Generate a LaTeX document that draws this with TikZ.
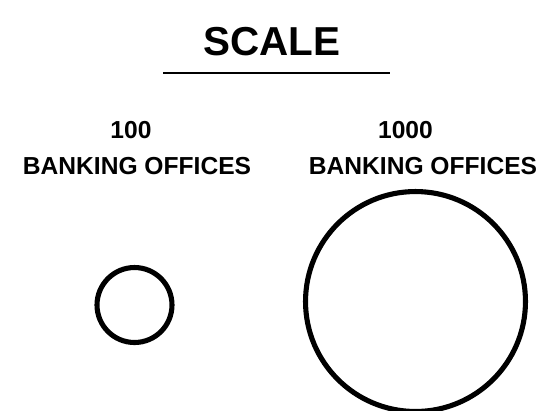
\documentclass[tikz,border=0pt]{standalone}
\usepackage{fontspec}
\setmainfont{Liberation Sans}
\begin{document}
\begin{tikzpicture}[x=0.02cm,y=-0.02cm,
    label/.style = {inner sep=0pt,
        font=\bfseries\fontsize{14}{18}\selectfont},
    ring/.style = {circle, draw, line width=2.9pt, inner sep=0pt}]

\useasboundingbox (0,0) rectangle (547,410);

% Title
\node[inner sep=0pt,font=\bfseries\fontsize{23}{28}\selectfont] (title) at (272,42) {SCALE};
\coordinate (ulA) at (163,73);
\coordinate (ulB) at (390,73);
\draw[line width=1.3pt] (ulA) -- (ulB);

% 100 offices
\node[label] (n100) at (131,130.5) {100};
\node[label] (b100) at (137,166.5) {BANKING OFFICES};
\node[ring,minimum size=1.5cm] (small) at (134.5,305) {};

% 1000 offices
\node[label] (n1000) at (405.5,130.5) {1000};
\node[label] (b1000) at (423,166.5) {BANKING OFFICES};
\node[ring,minimum size=4.4cm] (large) at (415.5,301.5) {};
\end{tikzpicture}
\end{document}
